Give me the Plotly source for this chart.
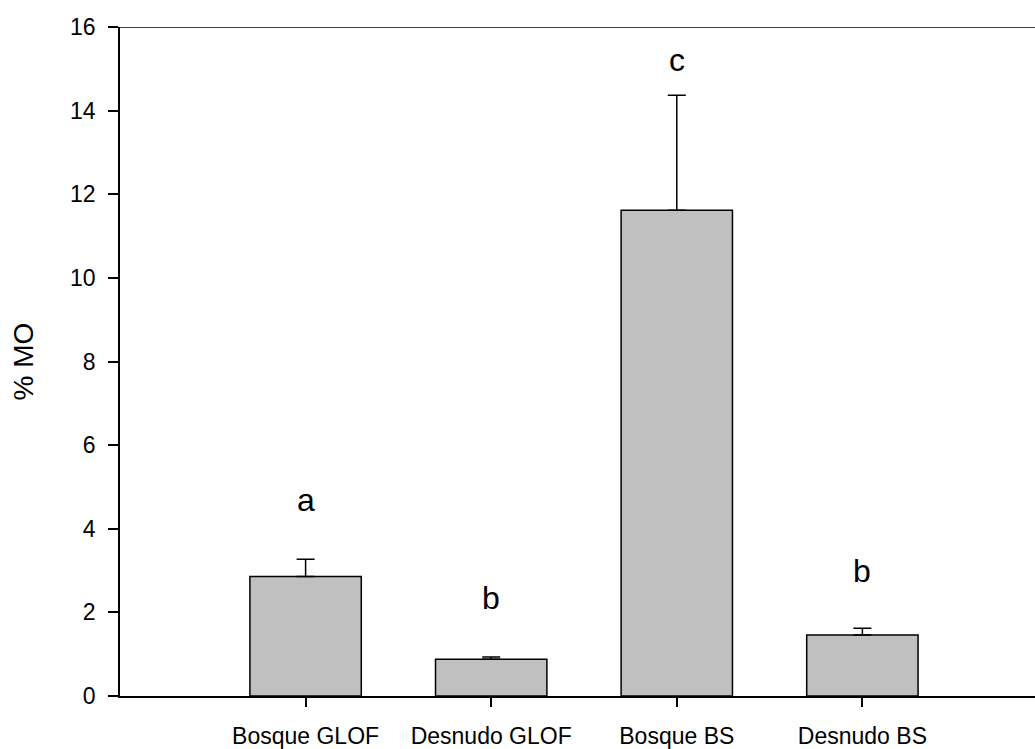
import plotly.graph_objects as go

categories = ["Bosque GLOF", "Desnudo GLOF", "Bosque BS", "Desnudo BS"]
mo_values = [2.86, 0.88, 11.62, 1.46]
mo_error = [0.41, 0.05, 2.75, 0.16]
letters = ["a", "b", "c", "b"]
letter_y = [4.68, 2.34, 15.2, 3.0]
y_ticks = [0, 2, 4, 6, 8, 10, 12, 14, 16]

x_pos = list(range(len(categories)))
FONT = "Liberation Sans, Arial, sans-serif"

fig = go.Figure()
fig.add_trace(go.Bar(
    x=x_pos, y=mo_values, width=0.6,
    marker=dict(color="#C0C0C0", line=dict(color="black", width=1.5)),
    error_y=dict(type="data", array=mo_error, arrayminus=[0]*len(mo_error),
                 symmetric=False, color="black", thickness=1.5, width=9),
    showlegend=False,
))

for xi, lt, ly in zip(x_pos, letters, letter_y):
    fig.add_annotation(x=xi, y=ly, text=lt, showarrow=False,
                       font=dict(family=FONT, size=32, color="black"))

fig.add_shape(type="line", xref="paper", yref="y", x0=0, x1=1, y0=16, y1=16,
              line=dict(color="black", width=1.5))

fig.update_layout(
    width=1035, height=749,
    margin=dict(l=120, r=0, t=27, b=51),
    paper_bgcolor="white", plot_bgcolor="white",
    font=dict(family=FONT, color="black", size=22),
    xaxis=dict(range=[-1, 3.93], tickvals=x_pos, ticktext=categories,
               showline=True, linecolor="black", linewidth=1.5,
               ticks="outside", ticklen=9, tickwidth=1.5, tickcolor="black",
               showgrid=False, zeroline=False, tickfont=dict(size=23),
               ticklabelstandoff=10),
    yaxis=dict(range=[0, 16], tickvals=y_ticks,
               showline=True, linecolor="black", linewidth=1.5,
               ticks="outside", ticklen=10, tickwidth=1.5, tickcolor="black",
               showgrid=False, zeroline=False, tickfont=dict(size=23),
               ticklabelstandoff=8,
               title=dict(text="% MO", font=dict(size=28), standoff=28)),
    bargap=0.4,
)

fig.write_html("out.html", config={"displayModeBar": False},
               post_script="document.body.style.margin='0';document.body.style.overflow='hidden';")
